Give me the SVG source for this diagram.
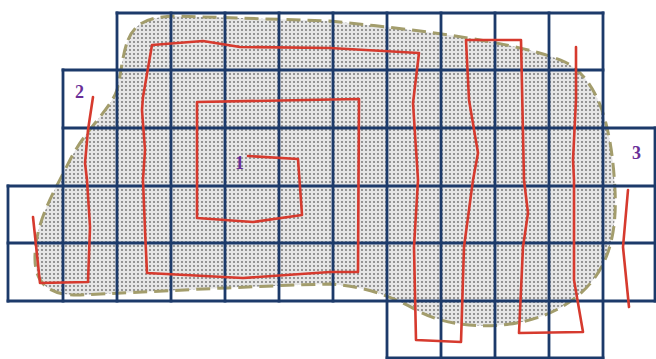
<svg xmlns="http://www.w3.org/2000/svg" width="656" height="359" viewBox="0 0 656 359">
<defs>
<pattern id="dots" width="4" height="4" patternUnits="userSpaceOnUse">
<rect width="4" height="4" fill="#e6e6e6"/>
<circle cx="2" cy="2" r="0.9" fill="#6e6e6e"/>
</pattern>
<style>
.grid{stroke:#1c3a6a;stroke-width:2.8;fill:none;stroke-linecap:square}
.route{stroke:#d63a2e;stroke-width:2.6;fill:none;stroke-linejoin:round;stroke-linecap:round}
.lbl{font-family:"Liberation Serif",serif;font-weight:bold;font-size:18px;fill:#6a2f98}
</style>
</defs>
<rect width="656" height="359" fill="#ffffff"/>
<g id="field">
<path d="M 128 40 C 135 22, 150 17, 175 16 L 330 21 C 420 30, 520 42, 565 62 C 600 80, 612 130, 615 190 C 618 250, 600 285, 560 308 C 520 330, 460 332, 420 312 C 395 298, 370 287, 330 284 C 250 286, 150 292, 80 295 C 45 296, 34 280, 35 255 C 36 220, 55 190, 70 160 C 85 130, 110 110, 117 90 C 122 70, 122 55, 128 40 Z" fill="url(#dots)" stroke="#a39d6c" stroke-width="3" stroke-dasharray="14 7"/>
</g>
<g id="grid" class="grid">
<path d="M117 13H603M63 70H603M63 128H655M8 186H655M8 243H655M8 301H655M387 358H603"/>
<path d="M8 186V301M63 70V301M117 13V301M171 13V301M225 13V301M279 13V301M333 13V301M387 13V358M441 13V358M495 13V358M549 13V358M603 13V358M655 128V301"/>
</g>
<g id="connectors">
<polyline id="route1" class="route" points="248,156 298,159 302,215 253,222 197,218 197,102 359,99 358,272 330,272 243,278 147,273 145,230 143,180 145,150 142,110 143,97 152,45 203,41 240,47 330,48 419,53 413,103 418,180 414,247 416,340 461,342 464,247 473,180 478,153 469,100 466,40 521,40 524,180 528,213 523,247 519,333 583,332 574,280 574,180 573,160 576,100 576,47"/>
<polyline id="route2" class="route" points="93,97 88,130 85,163 87,180 90,227 88,282 40,283 33,217"/>
<polyline id="route3" class="route" points="628,190 623,247 629,307"/>
</g>
<g id="label1"><text class="lbl" x="235" y="169">1</text></g>
<g id="label2"><text class="lbl" x="75" y="98">2</text></g>
<g id="label3"><text class="lbl" x="632" y="159">3</text></g>
</svg>
